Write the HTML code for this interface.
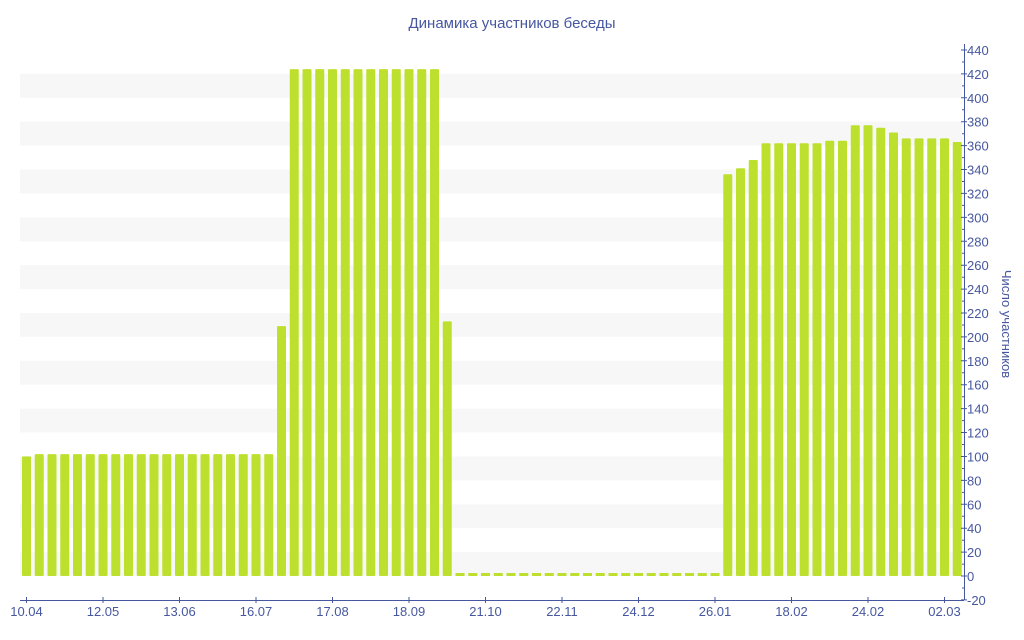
<!DOCTYPE html>
<html><head><meta charset="utf-8"><style>
html,body{margin:0;padding:0;background:#fff;}
svg{display:block;font-family:"Liberation Sans","DejaVu Sans",sans-serif;}
text{fill:#4657a0;font-size:13px;}
</style></head><body>
<svg width="1024" height="640" viewBox="0 0 1024 640" xmlns="http://www.w3.org/2000/svg">
<text x="512" y="28" text-anchor="middle" style="font-size:15px">Динамика участников беседы</text>
<g fill="#f7f7f7">
<rect x="20" y="73.9" width="942" height="23.9"/>
<rect x="20" y="121.7" width="942" height="23.9"/>
<rect x="20" y="169.5" width="942" height="23.9"/>
<rect x="20" y="217.4" width="942" height="23.9"/>
<rect x="20" y="265.2" width="942" height="23.9"/>
<rect x="20" y="313" width="942" height="23.9"/>
<rect x="20" y="360.8" width="942" height="23.9"/>
<rect x="20" y="408.6" width="942" height="23.9"/>
<rect x="20" y="456.5" width="942" height="23.9"/>
<rect x="20" y="504.3" width="942" height="23.9"/>
<rect x="20" y="552.1" width="942" height="23.9"/>
</g>
<g fill="#bde02f">
<rect x="22" y="456.4" width="9" height="119.6" rx="1"/>
<rect x="34.75" y="454.1" width="9" height="121.9" rx="1"/>
<rect x="47.5" y="454.1" width="9" height="121.9" rx="1"/>
<rect x="60.25" y="454.1" width="9" height="121.9" rx="1"/>
<rect x="73" y="454.1" width="9" height="121.9" rx="1"/>
<rect x="85.75" y="454.1" width="9" height="121.9" rx="1"/>
<rect x="98.5" y="454.1" width="9" height="121.9" rx="1"/>
<rect x="111.25" y="454.1" width="9" height="121.9" rx="1"/>
<rect x="124" y="454.1" width="9" height="121.9" rx="1"/>
<rect x="136.75" y="454.1" width="9" height="121.9" rx="1"/>
<rect x="149.5" y="454.1" width="9" height="121.9" rx="1"/>
<rect x="162.25" y="454.1" width="9" height="121.9" rx="1"/>
<rect x="175" y="454.1" width="9" height="121.9" rx="1"/>
<rect x="187.75" y="454.1" width="9" height="121.9" rx="1"/>
<rect x="200.5" y="454.1" width="9" height="121.9" rx="1"/>
<rect x="213.25" y="454.1" width="9" height="121.9" rx="1"/>
<rect x="226" y="454.1" width="9" height="121.9" rx="1"/>
<rect x="238.75" y="454.1" width="9" height="121.9" rx="1"/>
<rect x="251.5" y="454.1" width="9" height="121.9" rx="1"/>
<rect x="264.25" y="454.1" width="9" height="121.9" rx="1"/>
<rect x="277" y="326.1" width="9" height="249.9" rx="1"/>
<rect x="289.75" y="69.1" width="9" height="506.9" rx="1"/>
<rect x="302.5" y="69.1" width="9" height="506.9" rx="1"/>
<rect x="315.25" y="69.1" width="9" height="506.9" rx="1"/>
<rect x="328" y="69.1" width="9" height="506.9" rx="1"/>
<rect x="340.75" y="69.1" width="9" height="506.9" rx="1"/>
<rect x="353.5" y="69.1" width="9" height="506.9" rx="1"/>
<rect x="366.25" y="69.1" width="9" height="506.9" rx="1"/>
<rect x="379" y="69.1" width="9" height="506.9" rx="1"/>
<rect x="391.75" y="69.1" width="9" height="506.9" rx="1"/>
<rect x="404.5" y="69.1" width="9" height="506.9" rx="1"/>
<rect x="417.25" y="69.1" width="9" height="506.9" rx="1"/>
<rect x="430" y="69.1" width="9" height="506.9" rx="1"/>
<rect x="442.75" y="321.4" width="9" height="254.6" rx="1"/>
<rect x="455.5" y="573" width="9" height="3"/>
<rect x="468.25" y="573" width="9" height="3"/>
<rect x="481" y="573" width="9" height="3"/>
<rect x="493.75" y="573" width="9" height="3"/>
<rect x="506.5" y="573" width="9" height="3"/>
<rect x="519.25" y="573" width="9" height="3"/>
<rect x="532" y="573" width="9" height="3"/>
<rect x="544.75" y="573" width="9" height="3"/>
<rect x="557.5" y="573" width="9" height="3"/>
<rect x="570.25" y="573" width="9" height="3"/>
<rect x="583" y="573" width="9" height="3"/>
<rect x="595.75" y="573" width="9" height="3"/>
<rect x="608.5" y="573" width="9" height="3"/>
<rect x="621.25" y="573" width="9" height="3"/>
<rect x="634" y="573" width="9" height="3"/>
<rect x="646.75" y="573" width="9" height="3"/>
<rect x="659.5" y="573" width="9" height="3"/>
<rect x="672.25" y="573" width="9" height="3"/>
<rect x="685" y="573" width="9" height="3"/>
<rect x="697.75" y="573" width="9" height="3"/>
<rect x="710.5" y="573" width="9" height="3"/>
<rect x="723.25" y="174.3" width="9" height="401.7" rx="1"/>
<rect x="736" y="168.3" width="9" height="407.7" rx="1"/>
<rect x="748.75" y="160" width="9" height="416" rx="1"/>
<rect x="761.5" y="143.2" width="9" height="432.8" rx="1"/>
<rect x="774.25" y="143.2" width="9" height="432.8" rx="1"/>
<rect x="787" y="143.2" width="9" height="432.8" rx="1"/>
<rect x="799.75" y="143.2" width="9" height="432.8" rx="1"/>
<rect x="812.5" y="143.2" width="9" height="432.8" rx="1"/>
<rect x="825.25" y="140.8" width="9" height="435.2" rx="1"/>
<rect x="838" y="140.8" width="9" height="435.2" rx="1"/>
<rect x="850.75" y="125.3" width="9" height="450.7" rx="1"/>
<rect x="863.5" y="125.3" width="9" height="450.7" rx="1"/>
<rect x="876.25" y="127.7" width="9" height="448.3" rx="1"/>
<rect x="889" y="132.5" width="9" height="443.5" rx="1"/>
<rect x="901.75" y="138.4" width="9" height="437.6" rx="1"/>
<rect x="914.5" y="138.4" width="9" height="437.6" rx="1"/>
<rect x="927.25" y="138.4" width="9" height="437.6" rx="1"/>
<rect x="940" y="138.4" width="9" height="437.6" rx="1"/>
<rect x="952.75" y="142" width="9" height="434" rx="1"/>
</g>
<g stroke="#4657a0" stroke-width="1">
<line x1="964.5" y1="44" x2="964.5" y2="600"/>
<line x1="20" y1="600.5" x2="964" y2="600.5"/>
</g>
<g stroke="#4657a0" stroke-width="1" fill="none">
<path d="M961 50h6M961 73.9h6M961 97.8h6M961 121.7h6M961 145.6h6M961 169.5h6M961 193.4h6M961 217.4h6M961 241.3h6M961 265.2h6M961 289.1h6M961 313h6M961 336.9h6M961 360.8h6M961 384.7h6M961 408.6h6M961 432.5h6M961 456.5h6M961 480.4h6M961 504.3h6M961 528.2h6M961 552.1h6M961 576h6M961 599.9h6"/>
<path d="M962 62h2M962 85.9h2M962 109.8h2M962 133.7h2M962 157.6h2M962 181.5h2M962 205.4h2M962 229.4h2M962 253.3h2M962 277.2h2M962 301.1h2M962 325h2M962 348.9h2M962 372.8h2M962 396.7h2M962 420.6h2M962 444.5h2M962 468.5h2M962 492.4h2M962 516.3h2M962 540.2h2M962 564.1h2M962 588h2"/>
<path d="M26.5 597v6M103 597v6M179.5 597v6M256 597v6M332.5 597v6M409 597v6M485.5 597v6M562 597v6M638.5 597v6M715 597v6M791.5 597v6M868 597v6M944.5 597v6"/>
</g>
<g>
<text x="967" y="55">440</text>
<text x="967" y="78.9">420</text>
<text x="967" y="102.8">400</text>
<text x="967" y="126.7">380</text>
<text x="967" y="150.6">360</text>
<text x="967" y="174.5">340</text>
<text x="967" y="198.4">320</text>
<text x="967" y="222.4">300</text>
<text x="967" y="246.3">280</text>
<text x="967" y="270.2">260</text>
<text x="967" y="294.1">240</text>
<text x="967" y="318">220</text>
<text x="967" y="341.9">200</text>
<text x="967" y="365.8">180</text>
<text x="967" y="389.7">160</text>
<text x="967" y="413.6">140</text>
<text x="967" y="437.5">120</text>
<text x="967" y="461.5">100</text>
<text x="967" y="485.4">80</text>
<text x="967" y="509.3">60</text>
<text x="967" y="533.2">40</text>
<text x="967" y="557.1">20</text>
<text x="967" y="581">0</text>
<text x="967" y="604.9">-20</text>
</g>
<g text-anchor="middle">
<text x="26.5" y="616">10.04</text>
<text x="103" y="616">12.05</text>
<text x="179.5" y="616">13.06</text>
<text x="256" y="616">16.07</text>
<text x="332.5" y="616">17.08</text>
<text x="409" y="616">18.09</text>
<text x="485.5" y="616">21.10</text>
<text x="562" y="616">22.11</text>
<text x="638.5" y="616">24.12</text>
<text x="715" y="616">26.01</text>
<text x="791.5" y="616">18.02</text>
<text x="868" y="616">24.02</text>
<text x="944.5" y="616">02.03</text>
</g>
<text transform="translate(1002,324) rotate(90)" text-anchor="middle">Число участников</text>
</svg>
</body></html>
